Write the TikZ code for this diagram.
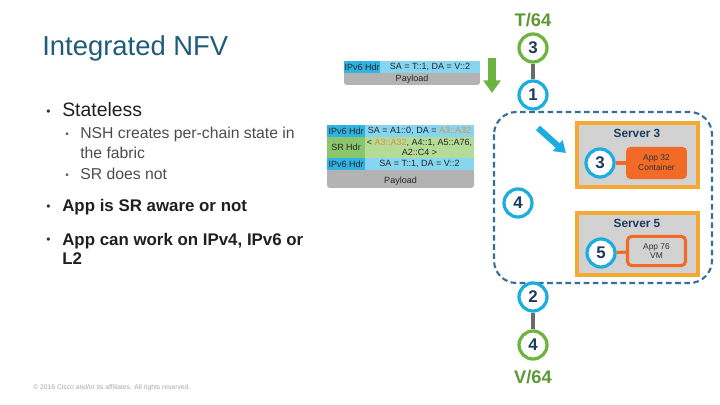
\documentclass[tikz,border=0pt]{standalone}
\usepackage{fontspec}
\setmainfont{Liberation Sans}
\usetikzlibrary{positioning, arrows.meta, calc}
\definecolor{titleblue}{HTML}{1E5C78}
\definecolor{navy}{HTML}{1B3A5C}
\definecolor{hopgreen}{HTML}{6DB33F}
\definecolor{hopcyan}{HTML}{1BADE0}
\definecolor{linegray}{HTML}{6B6B6B}
\definecolor{fabric}{HTML}{356E98}
\definecolor{srvorange}{HTML}{F5A833}
\definecolor{apporange}{HTML}{F26A25}
\definecolor{srvfill}{HTML}{D2D2D2}
\definecolor{hdrdark}{HTML}{2DB4E4}
\definecolor{hdrlight}{HTML}{86D6F2}
\definecolor{srdark}{HTML}{8AC66C}
\definecolor{srlight}{HTML}{B4DB98}
\definecolor{payload}{HTML}{B3B3B3}
\definecolor{sidorange}{HTML}{E98B3F}

\begin{document}
\begin{tikzpicture}[x=0.025cm, y=-0.025cm,
  hopc/.style={circle, draw=hopcyan, line width=2.3pt, fill=white, minimum size=7mm, inner sep=0pt,
               font=\bfseries\fontsize{12}{12}\selectfont, text=navy},
  hopg/.style={hopc, draw=hopgreen},
  pkt/.style={inner sep=0pt, text=black!85, font=\fontsize{6.4}{7.4}\selectfont},
  srvbox/.style={draw=srvorange, line width=2.8pt, fill=srvfill},
  main/.style={anchor=base west, inner sep=0pt, text=black!88, font=\bfseries\fontsize{12}{14}\selectfont},
  sub/.style={anchor=base west, inner sep=0pt, text=black!70, font=\fontsize{11.2}{13}\selectfont},
  mdot/.style={anchor=base west, inner sep=0pt, text=black!80, font=\fontsize{8.5}{9}\selectfont},
  sdot/.style={anchor=base west, inner sep=0pt, text=black!65, font=\fontsize{7}{8}\selectfont}]
  \useasboundingbox (0,0) rectangle (720,405);

  % Title and bullets
  \node[anchor=west, inner sep=0pt, text=titleblue, font=\fontsize{19.5}{22}\selectfont] (title) at (42,48) {Integrated NFV};
  \node[mdot] (b1) at (46,116) {\textbullet};
  \node[anchor=base west, inner sep=0pt, text=black!88, font=\fontsize{13.8}{16}\selectfont] (stateless) at (62,117) {Stateless};
  \node[sdot] (s1dot) at (65,138) {\textbullet};
  \node[sub] (s1) at (80,139) {NSH creates per-chain state in};
  \node[sub] (s1b) at (80,159) {the fabric};
  \node[sdot] (s2dot) at (65,179) {\textbullet};
  \node[sub] (s2) at (80,180) {SR does not};
  \node[mdot] (b2) at (46,211) {\textbullet};
  \node[main] (aware) at (62,212) {App is SR aware or not};
  \node[mdot] (b3) at (46,244) {\textbullet};
  \node[main] (work) at (62,245) {App can work on IPv4, IPv6 or};
  \node[main] (work2) at (62,265) {L2};
  \node[anchor=west, inner sep=0pt, text=black!35, font=\fontsize{4.8}{5.5}\selectfont] (copy) at (33,388)
    {© 2016 Cisco and/or its affiliates. All rights reserved.};

  % Packet at T
  \fill[hdrdark] (344,61) rectangle (380,73);
  \fill[hdrlight] (380,61) rectangle (480,73);
  \fill[payload, rounded corners=2pt] (344,73) rectangle (480,85);
  \fill[payload] (344,73) rectangle (480,79);
  \node[pkt] (p1h) at (362,67) {IPv6 Hdr};
  \node[pkt] (p1sa) at (430,67) {SA = T::1, DA = V::2};
  \node[pkt] (p1pl) at (412,79) {Payload};

  % Down arrow
  \coordinate (dtop) at (492,58);
  \coordinate (dbot) at (492,93);
  \draw[hopgreen, line width=5.7pt, -{Triangle[width=12pt, length=9pt]}] (dtop) -- (dbot);

  % Packet in fabric
  \fill[hdrdark] (327,125) rectangle (365,137);
  \fill[hdrlight] (365,125) rectangle (474,137);
  \fill[srdark] (327,137) rectangle (365,158);
  \fill[srlight] (365,137) rectangle (474,158);
  \fill[hdrdark] (327,158) rectangle (365,170);
  \fill[hdrlight] (365,158) rectangle (474,170);
  \fill[payload, rounded corners=2pt] (327,170) rectangle (474,188);
  \fill[payload] (327,170) rectangle (474,178);
  \node[pkt] (p2h) at (346,131) {IPv6 Hdr};
  \node[pkt] (p2sa) at (419.5,131) {SA = A1::0, DA = \textcolor{sidorange}{A3::A32}};
  \node[pkt] (p2sr) at (346,147.5) {SR Hdr};
  \node[pkt, align=center] (p2list) at (419.5,147.5) {< \textcolor{sidorange}{A3::A32}, A4::1, A5::A76,\\A2::C4 >};
  \node[pkt] (p2h2) at (346,164) {IPv6 Hdr};
  \node[pkt] (p2sa2) at (419.5,164) {SA = T::1, DA = V::2};
  \node[pkt] (p2pl) at (400.5,181) {Payload};

  % Fabric
  \draw[fabric, line width=1.5pt, dash pattern=on 4pt off 2.5pt, rounded corners=16pt] (494,112) rectangle (712,283);

  % Server 3
  \draw[srvbox] (577,123) rectangle (698,187);
  \node[font=\bfseries\fontsize{8.4}{9}\selectfont, text=navy, inner sep=0pt] (srv3) at (637,133) {Server 3};
  \node[fill=apporange, rounded corners=3pt, minimum width=1.52cm, minimum height=0.8cm, align=center,
        font=\fontsize{6}{7}\selectfont, text=black!80, inner sep=0pt] (app32) at (656.5,163) {App 32\\Container};
  \node[hopc] (h3) at (600,163) {3};
  \draw[apporange, line width=2.2pt] (h3) -- (app32);

  % Server 5
  \draw[srvbox] (577,213) rectangle (698,275);
  \node[font=\bfseries\fontsize{8.4}{9}\selectfont, text=navy, inner sep=0pt] (srv5) at (637,223) {Server 5};
  \node[draw=apporange, line width=2.2pt, fill=srvfill, rounded corners=3pt, minimum width=1.45cm, minimum height=0.73cm,
        align=center, font=\fontsize{6}{7}\selectfont, text=black!80, inner sep=0pt] (app76) at (656.5,251) {App 76\\VM};
  \node[hopc] (h5) at (601,253) {5};
  \draw[apporange, line width=2.2pt] (h5) -- (app76);

  % Path hops
  \node[font=\bfseries\fontsize{13}{14}\selectfont, text=hopgreen!85!black] (tlab) at (533,20) {T/64};
  \node[hopg] (t3) at (533,48) {3};
  \node[hopc] (h1) at (533,95) {1};
  \draw[linegray, line width=2.8pt] (t3) -- (h1);
  \node[hopc] (h4) at (518,203) {4};
  \node[hopc] (h2) at (533,297) {2};
  \node[hopg] (v4) at (533,345) {4};
  \draw[linegray, line width=2.8pt] (h2) -- (v4);
  \node[font=\bfseries\fontsize{13}{14}\selectfont, text=hopgreen!85!black] (vlab) at (533,377) {V/64};

  % Steering arrow
  \coordinate (sfrom) at (538,128);
  \coordinate (sto) at (566,153);
  \draw[hopcyan, line width=4.3pt, -{Triangle[width=10pt, length=8pt]}] (sfrom) -- (sto);
\end{tikzpicture}
\end{document}
